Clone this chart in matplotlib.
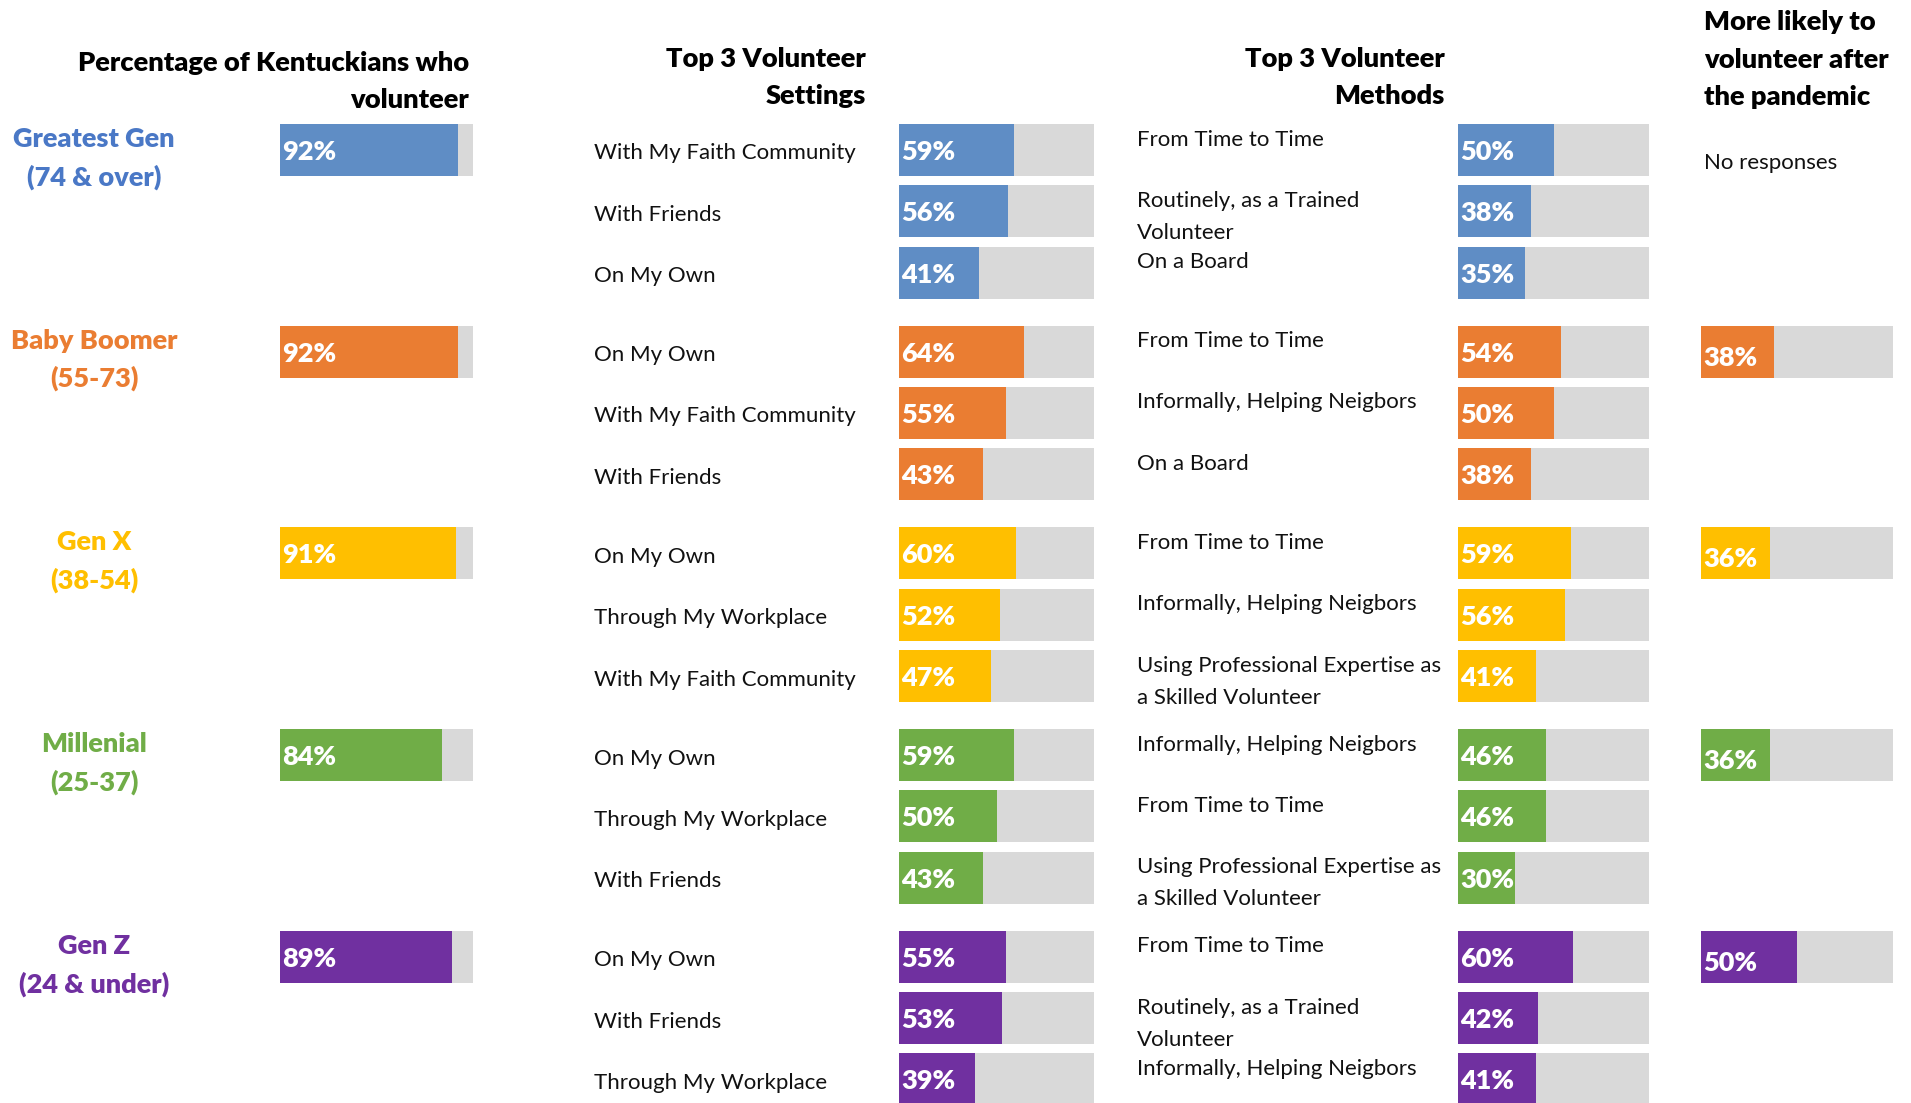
import matplotlib
matplotlib.use("Agg")
import matplotlib.pyplot as plt

# ---------------- data ----------------
generations = ["Greatest Gen\n(74 & over)", "Baby Boomer\n(55-73)", "Gen X\n(38-54)",
               "Millenial\n(25-37)", "Gen Z\n(24 & under)"]
volunteer_pct = [92, 92, 91, 84, 89]

settings_labels = [
    ["With My Faith Community", "With Friends", "On My Own"],
    ["On My Own", "With My Faith Community", "With Friends"],
    ["On My Own", "Through My Workplace", "With My Faith Community"],
    ["On My Own", "Through My Workplace", "With Friends"],
    ["On My Own", "With Friends", "Through My Workplace"],
]
settings_vals = [[59, 56, 41], [64, 55, 43], [60, 52, 47], [59, 50, 43], [55, 53, 39]]

methods_labels = [
    ["From Time to Time", "Routinely, as a Trained\nVolunteer", "On a Board"],
    ["From Time to Time", "Informally, Helping Neigbors", "On a Board"],
    ["From Time to Time", "Informally, Helping Neigbors",
     "Using Professional Expertise as\na Skilled Volunteer"],
    ["Informally, Helping Neigbors", "From Time to Time",
     "Using Professional Expertise as\na Skilled Volunteer"],
    ["From Time to Time", "Routinely, as a Trained\nVolunteer", "Informally, Helping Neigbors"],
]
methods_vals = [[50, 38, 35], [54, 50, 38], [59, 56, 41], [46, 46, 30], [60, 42, 41]]

pandemic_vals = [None, 38, 36, 36, 50]
no_response_text = "No responses"

titles = {
    "volunteer": "Percentage of Kentuckians who\nvolunteer",
    "settings": "Top 3 Volunteer\nSettings",
    "methods": "Top 3 Volunteer\nMethods",
    "pandemic": "More likely to\nvolunteer after\nthe pandemic",
}

bar_colors = ["#5F8DC5", "#EA7D32", "#FFBF00", "#70AD47", "#7030A0"]
label_colors = ["#4A78C6", "#EA7D32", "#FFBF00", "#70AD47", "#7030A0"]
track_color = "#D9D9D9"

# ---------------- layout ----------------
W, H = 1911, 1103
FONT = "Lato"
plt.rcParams["font.family"] = [FONT, "DejaVu Sans"]

fig = plt.figure(figsize=(W / 100, H / 100), dpi=100)
fig.patch.set_facecolor("white")

group_top0 = 124
group_pitch = 201.7
row_pitch = 61.3
bar_h = 52

LABEL_FS = 16
VALUE_FS = 19.5
GEN_FS = 19.5
TITLE_FS = 19.6


def group_top(g):
    return group_top0 + g * group_pitch


def row_center(g, r):
    return group_top(g) + r * row_pitch + bar_h / 2


def fx(px):
    return px / W


def fy(py):
    return 1 - py / H


def make_axes(x0, width):
    ax = fig.add_axes([fx(x0), 0, width / W, 1])
    ax.set_xlim(0, 100)
    ax.set_ylim(H, 0)
    ax.axis("off")
    return ax


def draw_bars(ax, ys, vals, color, dy=2):
    ax.barh(ys, [100] * len(ys), height=bar_h, color=track_color, zorder=1)
    ax.barh(ys, vals, height=bar_h, color=color, zorder=2)
    for y, v in zip(ys, vals):
        ax.text(1.3, y + dy, f"{v}%", color="white", fontsize=VALUE_FS, fontweight="heavy",
                ha="left", va="center", zorder=3)


# column axes
ax_vol = make_axes(280, 193)
ax_set = make_axes(899, 195)
ax_met = make_axes(1458, 191)
ax_pan = make_axes(1701, 192)

TXT = "#111111"
for g in range(len(generations)):
    col = bar_colors[g]
    # generation label
    for i, line in enumerate(generations[g].split("\n")):
        fig.text(fx(94), fy(group_top(g) + 15 + i * 38), line, color=label_colors[g],
                 fontsize=GEN_FS, fontweight="heavy", ha="center", va="center")
    # volunteer %
    draw_bars(ax_vol, [row_center(g, 0)], [volunteer_pct[g]], col)
    # settings
    ys = [row_center(g, r) for r in range(3)]
    draw_bars(ax_set, ys, settings_vals[g], col)
    for r, lab in enumerate(settings_labels[g]):
        fig.text(fx(594), fy(ys[r] + 3.5), lab, color=TXT, fontsize=LABEL_FS,
                 ha="left", va="center")
    # methods
    draw_bars(ax_met, ys, methods_vals[g], col)
    for r, lab in enumerate(methods_labels[g]):
        for i, line in enumerate(lab.split("\n")):
            fig.text(fx(1137), fy(ys[r] - 10.5 + i * 32), line, color=TXT,
                     fontsize=LABEL_FS, ha="left", va="center")
    # pandemic
    if pandemic_vals[g] is None:
        fig.text(fx(1704), fy(163), no_response_text, color=TXT, fontsize=LABEL_FS,
                 ha="left", va="center")
    else:
        draw_bars(ax_pan, [row_center(g, 0)], [pandemic_vals[g]], col, dy=6)

# titles
def title(lines, x, y0, ha, step=37.5):
    for i, line in enumerate(lines.split("\n")):
        fig.text(fx(x), fy(y0 + i * step), line, color="black", fontsize=TITLE_FS,
                 fontweight="heavy", ha=ha, va="center")

title(titles["volunteer"], 469, 63, "right")
title(titles["settings"], 866, 59, "right")
title(titles["methods"], 1445, 59, "right")
title(titles["pandemic"], 1704, 22, "left")

fig.savefig("out.png", dpi=100, facecolor="white")
